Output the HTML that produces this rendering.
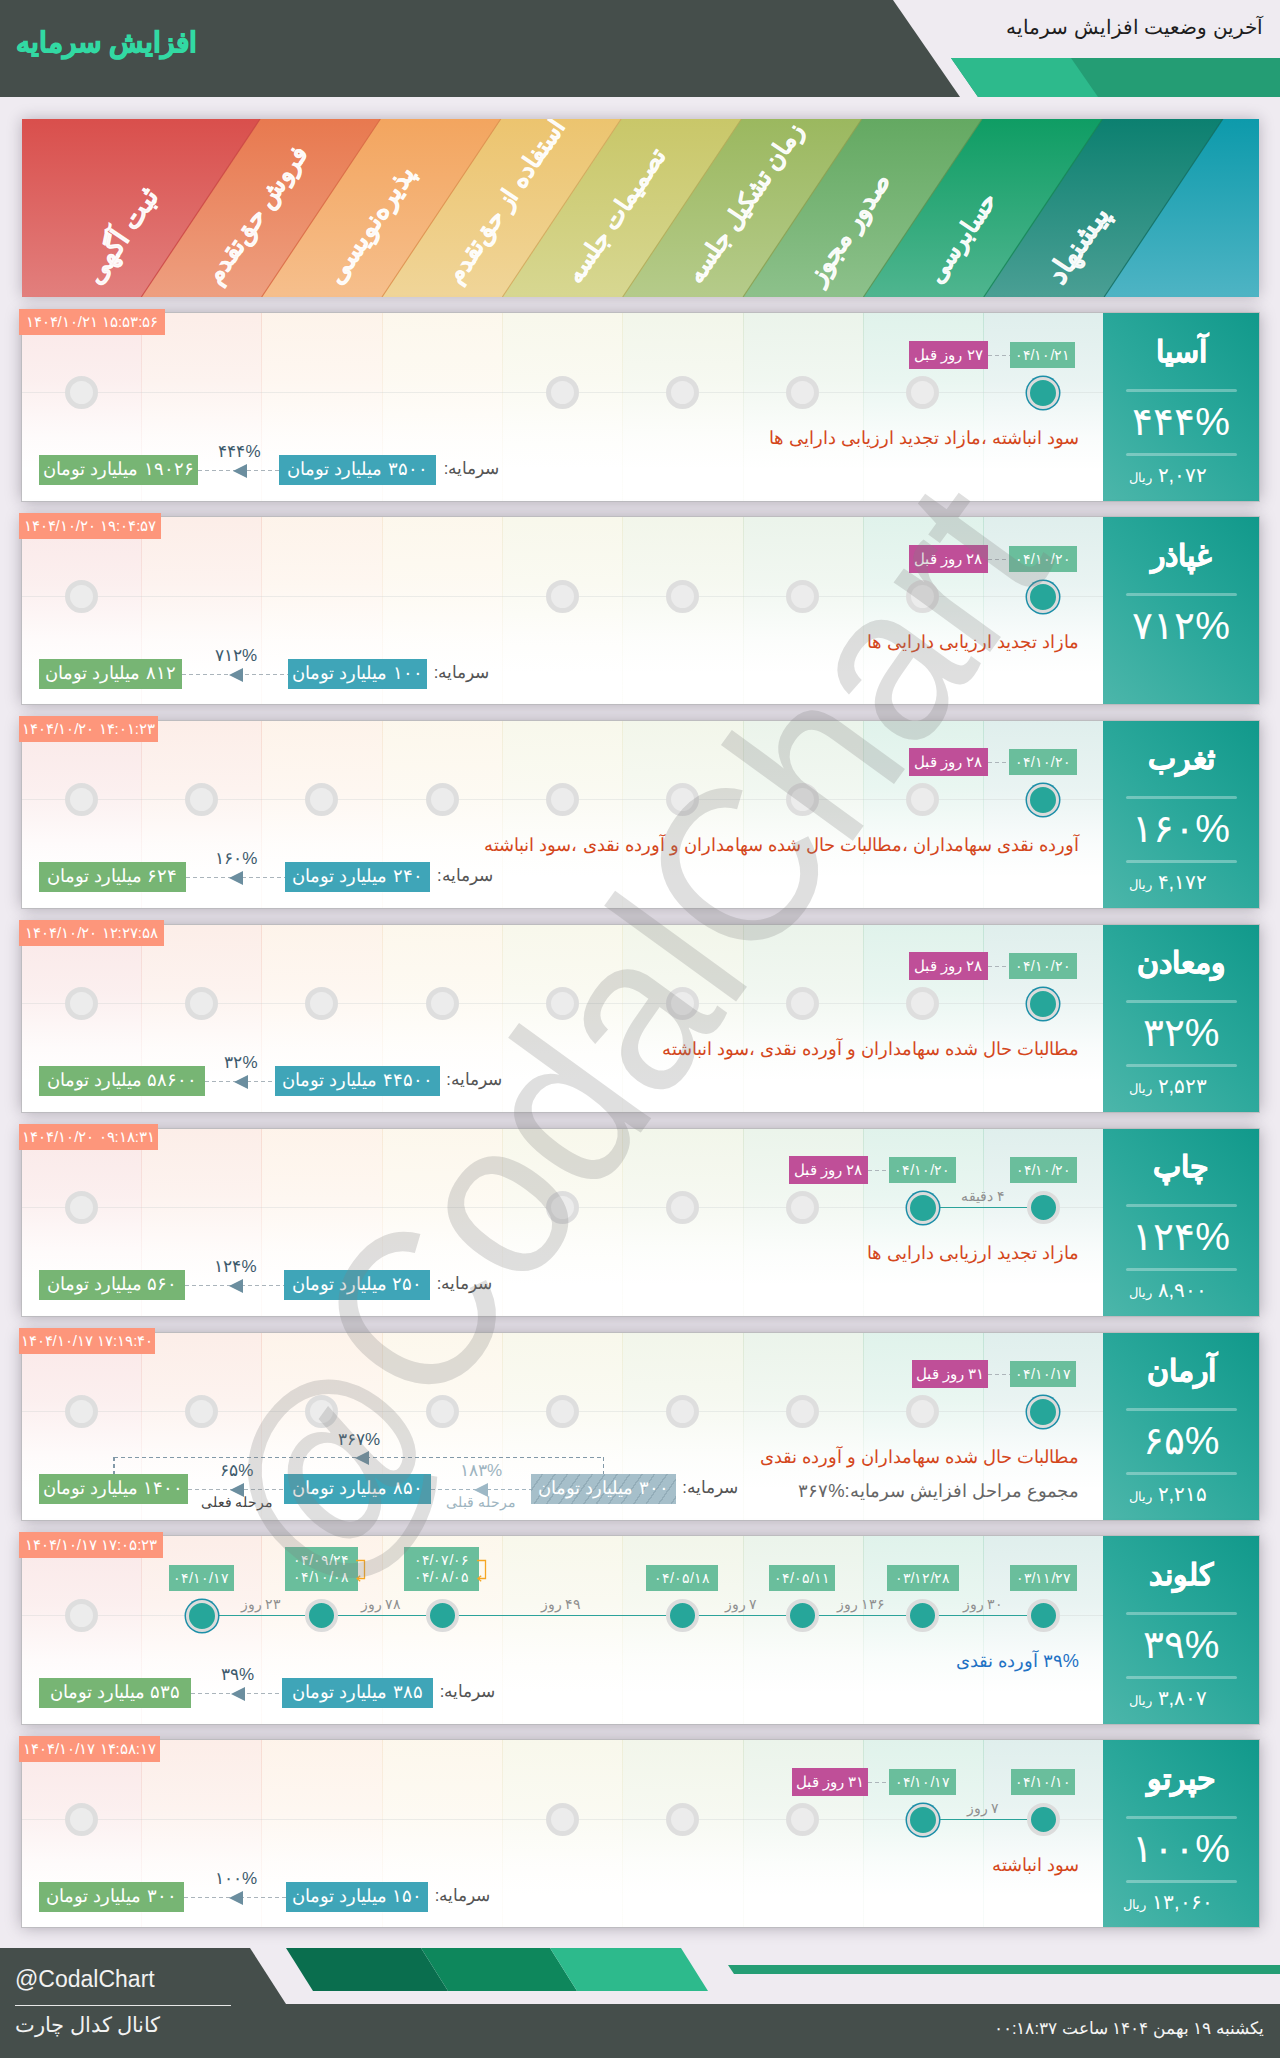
<!DOCTYPE html><html lang="fa"><head><meta charset="utf-8"><title>افزایش سرمایه</title><style>

*{box-sizing:border-box;margin:0;padding:0}
html,body{width:1280px;height:2058px;overflow:hidden}
body{position:relative;background:#efebf1;font-family:"Liberation Sans",sans-serif;color:#333}
.abs{position:absolute}
.hd-dark{position:absolute;left:0;top:0;width:962px;height:97px;background:#454e4b;clip-path:polygon(0 0,893px 0,960px 97px,0 97px)}
.hd-title{position:absolute;left:16px;top:21px;font-size:28px;font-weight:bold;color:#32d9a3;-webkit-text-stroke:1.1px #32d9a3;white-space:nowrap;line-height:44px;direction:rtl}
.hd-sub{position:absolute;right:17px;top:12px;font-size:20px;color:#1d1d1d;white-space:nowrap;line-height:30px;direction:rtl}
.hd-g1{position:absolute;left:940px;top:58px;width:340px;height:39px;background:#249d74;clip-path:polygon(11px 0,340px 0,340px 39px,38px 39px)}
.hd-g2{position:absolute;left:940px;top:58px;width:160px;height:39px;background:#2dba8c;clip-path:polygon(11px 0,131px 0,158px 39px,38px 39px)}
.stages{position:absolute;left:22px;top:119px;width:1237px;height:178px;overflow:hidden;box-shadow:0 0 14px rgba(40,30,50,.28);background:#d94f4c}
.stages svg{position:absolute;left:0;top:0}
.slab{position:absolute;white-space:nowrap;direction:rtl;font-weight:bold;font-size:24px;line-height:30px;color:rgba(255,255,255,.86);-webkit-text-stroke:.6px rgba(255,255,255,.8);transform-origin:0 100%;transform:rotate(-56.1deg);text-shadow:0 0 1px rgba(255,255,255,.35)}
.row{position:absolute;left:22px;width:1237px;height:188px;background:#fff;box-shadow:0 0 0 1px rgba(185,185,188,.8),0 0 15px rgba(40,30,50,.36)}
.row .bg{position:absolute;left:0;top:0;width:1081px;height:188px;background:linear-gradient(to right,#fbe9e6 0,#fdeee8 11%,#fef2e8 22%,#fef6ea 33%,#fbf8ea 44%,#f3f6e9 55%,#e9f3e9 66%,#e0f1ea 77%,#dcefec 88%,#dff0f1 100%)}
.row .fade{position:absolute;left:0;top:0;width:1081px;height:188px;background:linear-gradient(to bottom,rgba(255,255,255,0) 0,rgba(255,255,255,.55) 45%,rgba(255,255,255,.95) 80%,#fff 100%)}
.col{position:absolute;top:0;height:100%}
.vl{position:absolute;top:0;width:1px;height:100%}
.hl{position:absolute;left:0;top:79px;width:1081px;height:1px;background:rgba(200,205,205,.33)}
.ts{position:absolute;left:-3px;top:-4px;height:26px;background:#fd967b;color:#fff;font-size:15px;line-height:26px;text-align:center;white-space:nowrap;direction:ltr}
.c{position:absolute;width:33px;height:33px;border-radius:50%;border:5.5px solid #dedede;background:#ececec;top:63px}
.c.on{background:#26a69a;border:4px solid #dcdcdc}
.c.last{background:#26a69a;border:3.6px solid #dcdcdc;box-shadow:0 0 0 1.5px #1c8fa8;width:32px;height:32px;margin:.5px 0 0 .5px}
.ln{position:absolute;height:1.5px;background:#2ba39a;top:78.6px}
.dt{position:absolute;top:29px;height:26px;background:#6abe9c;color:#fff;font-size:14.3px;line-height:26px;text-align:center;white-space:nowrap;direction:rtl}
.dt2{position:absolute;top:11px;height:44px;background:#6abe9c;color:#fff;font-size:14.3px;line-height:17px;padding-top:5px;text-align:center;white-space:nowrap;direction:rtl}
.ago{position:absolute;top:28px;height:28px;background:#bf4f98;color:#fff;font-size:14.5px;line-height:28px;text-align:center;white-space:nowrap;direction:rtl}
.dash{position:absolute;height:1.5px;background:repeating-linear-gradient(to right,#aab4bb 0,#aab4bb 4px,transparent 4px,transparent 7px)}
.vdash{position:absolute;width:1.6px;background:repeating-linear-gradient(to bottom,#8299a8 0,#8299a8 4px,transparent 4px,transparent 7px)}
.gap{position:absolute;font-size:14.3px;line-height:16px;color:#8f8f8f;white-space:nowrap;direction:rtl;text-align:center}
.desc{position:absolute;right:180px;top:112px;font-size:18.2px;line-height:26px;color:#d4471c;white-space:nowrap;direction:rtl}
.desc.bl{color:#1f72c4}
.sum{position:absolute;right:180px;top:146px;font-size:18.4px;line-height:26px;color:#666;white-space:nowrap;direction:rtl}
.cap{position:absolute;top:142px;height:30px;color:#fff;font-size:18px;line-height:28px;text-align:center;white-space:nowrap;direction:rtl}
.cap.g{background:#77b574}
.cap.b{background:#3fa5b8}
.cap.h{background:repeating-linear-gradient(125deg,#a6bfca 0,#a6bfca 8.8px,#93adb9 8.8px,#93adb9 10.2px);color:#fff}
.capl{position:absolute;top:142px;height:29px;font-size:16.5px;line-height:26px;color:#555;white-space:nowrap;direction:rtl}
.pc{position:absolute;font-size:17px;line-height:18px;color:#3d5a6c;white-space:nowrap;text-align:center;direction:rtl}
.pc.lt{color:#9db4c0}
.st{position:absolute;font-size:13.8px;line-height:16px;color:#444;white-space:nowrap;text-align:center;direction:rtl}
.st.lt{color:#9db4c0}
.ar{position:absolute;width:0;height:0;border-top:7px solid transparent;border-bottom:7px solid transparent;border-right:14px solid #6b8e9f}
.ar.lt{border-right-color:#9db8c6}
.pnbg{position:absolute;left:1081px;top:0;width:156px;height:100%;background:linear-gradient(225deg,#11998b 0,#2ba89b 50%,#4cb6aa 100%)}
.in{position:absolute;left:0;width:1237px;height:188px}
.pn{position:absolute;left:1081px;top:0;width:156px;height:188px;color:#fff}
.pn .nm{position:absolute;left:0;width:156px;top:15px;text-align:center;font-size:30px;font-weight:bold;-webkit-text-stroke:.6px #fff;line-height:48px;white-space:nowrap;direction:rtl}
.pn .l1,.pn .l2{position:absolute;left:23px;width:111px;height:3px;border-radius:2px;background:rgba(255,255,255,.32)}
.pn .l1{top:75.5px}.pn .l2{top:140px}
.pn .pt{position:absolute;left:0;width:156px;top:84px;text-align:center;font-size:39px;line-height:50px;white-space:nowrap;direction:rtl}
.pn .pr{position:absolute;left:0;width:130px;top:148px;text-align:center;font-size:20px;line-height:28px;white-space:nowrap;direction:rtl}
.pn .pr small{font-size:13px}
.wm{position:absolute;left:624px;top:1023px;width:0;height:0}
.wm span{position:absolute;left:-800px;top:-150px;width:1600px;height:300px;line-height:300px;text-align:center;font-size:225px;color:rgba(128,128,128,.25);transform:rotate(-54deg) scaleX(.933);white-space:nowrap}
.ft-a{position:absolute;left:0;top:1948px;width:300px;height:56px;background:#454e4b;clip-path:polygon(0 0,250px 0,286px 56px,0 56px)}
.ft-b{position:absolute;left:0;top:2004px;width:1280px;height:54px;background:#454e4b}
.ft-g{position:absolute;top:1948px;height:43px}
.ft-line{position:absolute;left:700px;top:1965px;width:580px;height:9px;background:#249d74;clip-path:polygon(28px 0,580px 0,580px 9px,34px 9px)}
.ft-h{position:absolute;left:15px;top:1964px;font-size:23px;line-height:30px;color:#f2f2f2;white-space:nowrap}
.ft-u{position:absolute;left:15px;top:2005px;width:216px;height:1px;background:#e8e8e8}
.ft-k{position:absolute;left:15px;top:2010px;font-size:20.5px;line-height:30px;color:#f2f2f2;white-space:nowrap;direction:rtl}
.ft-d{position:absolute;right:16px;top:2013px;font-size:16.5px;line-height:30px;color:#f5f5f5;white-space:nowrap;direction:rtl}

.k0{left:0.0px;width:119.3px;background:linear-gradient(to bottom,rgba(217,79,76,.13) 0,rgba(217,79,76,.09) 36%,rgba(217,79,76,.025) 66%,rgba(217,79,76,0) 84%)}
.k1{left:119.3px;width:120.3px;background:linear-gradient(to bottom,rgba(232,121,79,.13) 0,rgba(232,121,79,.09) 36%,rgba(232,121,79,.025) 66%,rgba(232,121,79,0) 84%)}
.k2{left:239.6px;width:120.4px;background:linear-gradient(to bottom,rgba(243,165,95,.13) 0,rgba(243,165,95,.09) 36%,rgba(243,165,95,.025) 66%,rgba(243,165,95,0) 84%)}
.k3{left:360.0px;width:120.3px;background:linear-gradient(to bottom,rgba(236,196,111,.13) 0,rgba(236,196,111,.09) 36%,rgba(236,196,111,.025) 66%,rgba(236,196,111,0) 84%)}
.k4{left:480.3px;width:120.4px;background:linear-gradient(to bottom,rgba(201,199,105,.13) 0,rgba(201,199,105,.09) 36%,rgba(201,199,105,.025) 66%,rgba(201,199,105,0) 84%)}
.k5{left:600.7px;width:120.3px;background:linear-gradient(to bottom,rgba(155,184,95,.13) 0,rgba(155,184,95,.09) 36%,rgba(155,184,95,.025) 66%,rgba(155,184,95,0) 84%)}
.k6{left:721.0px;width:120.3px;background:linear-gradient(to bottom,rgba(100,169,98,.13) 0,rgba(100,169,98,.09) 36%,rgba(100,169,98,.025) 66%,rgba(100,169,98,0) 84%)}
.k7{left:841.4px;width:120.4px;background:linear-gradient(to bottom,rgba(15,157,100,.13) 0,rgba(15,157,100,.09) 36%,rgba(15,157,100,.025) 66%,rgba(15,157,100,0) 84%)}
.k8{left:961.8px;width:119.2px;background:linear-gradient(to bottom,rgba(12,128,112,.13) 0,rgba(12,128,112,.09) 36%,rgba(12,128,112,.025) 66%,rgba(12,128,112,0) 84%)}
.v1{left:118.8px;background:linear-gradient(to bottom,rgba(201,69,67,.14) 0,rgba(201,69,67,.09) 40%,rgba(201,69,67,.04) 75%,rgba(201,69,67,.03) 100%)}
.v2{left:239.1px;background:linear-gradient(to bottom,rgba(216,106,67,.14) 0,rgba(216,106,67,.09) 40%,rgba(216,106,67,.04) 75%,rgba(216,106,67,.03) 100%)}
.v3{left:359.5px;background:linear-gradient(to bottom,rgba(221,147,79,.14) 0,rgba(221,147,79,.09) 40%,rgba(221,147,79,.04) 75%,rgba(221,147,79,.03) 100%)}
.v4{left:479.8px;background:linear-gradient(to bottom,rgba(211,174,95,.14) 0,rgba(211,174,95,.09) 40%,rgba(211,174,95,.04) 75%,rgba(211,174,95,.03) 100%)}
.v5{left:600.2px;background:linear-gradient(to bottom,rgba(179,178,90,.14) 0,rgba(179,178,90,.09) 40%,rgba(179,178,90,.04) 75%,rgba(179,178,90,.03) 100%)}
.v6{left:720.5px;background:linear-gradient(to bottom,rgba(136,165,81,.14) 0,rgba(136,165,81,.09) 40%,rgba(136,165,81,.04) 75%,rgba(136,165,81,.03) 100%)}
.v7{left:840.9px;background:linear-gradient(to bottom,rgba(85,151,83,.14) 0,rgba(85,151,83,.09) 40%,rgba(85,151,83,.04) 75%,rgba(85,151,83,.03) 100%)}
.v8{left:961.2px;background:linear-gradient(to bottom,rgba(11,138,86,.14) 0,rgba(11,138,86,.09) 40%,rgba(11,138,86,.04) 75%,rgba(11,138,86,.03) 100%)}
</style></head><body>
<div class="hd-dark"></div><div class="hd-title">افزایش سرمایه</div><div class="hd-sub">آخرین وضعیت افزایش سرمایه</div><div class="hd-g1"></div><div class="hd-g2"></div>
<div class="stages"><svg width="1237" height="178" viewBox="0 0 1237 178"><defs><linearGradient id="sg0" x1="0" y1="0" x2="0" y2="1"><stop offset="0" stop-color="#d94f4c"/><stop offset="1" stop-color="#e27f7d"/></linearGradient><linearGradient id="sg1" x1="0" y1="0" x2="0" y2="1"><stop offset="0" stop-color="#e8794f"/><stop offset="1" stop-color="#ee9f80"/></linearGradient><linearGradient id="sg2" x1="0" y1="0" x2="0" y2="1"><stop offset="0" stop-color="#f3a55f"/><stop offset="1" stop-color="#f6bf8c"/></linearGradient><linearGradient id="sg3" x1="0" y1="0" x2="0" y2="1"><stop offset="0" stop-color="#ecc46f"/><stop offset="1" stop-color="#f0d598"/></linearGradient><linearGradient id="sg4" x1="0" y1="0" x2="0" y2="1"><stop offset="0" stop-color="#c9c769"/><stop offset="1" stop-color="#d7d791"/></linearGradient><linearGradient id="sg5" x1="0" y1="0" x2="0" y2="1"><stop offset="0" stop-color="#9bb85f"/><stop offset="1" stop-color="#b5cb8a"/></linearGradient><linearGradient id="sg6" x1="0" y1="0" x2="0" y2="1"><stop offset="0" stop-color="#64a962"/><stop offset="1" stop-color="#8dc18b"/></linearGradient><linearGradient id="sg7" x1="0" y1="0" x2="0" y2="1"><stop offset="0" stop-color="#0f9d64"/><stop offset="1" stop-color="#4fb58f"/></linearGradient><linearGradient id="sg8" x1="0" y1="0" x2="0" y2="1"><stop offset="0" stop-color="#0c8070"/><stop offset="1" stop-color="#4a9f94"/></linearGradient><linearGradient id="sg9" x1="0" y1="0" x2="0" y2="1"><stop offset="0" stop-color="#0d9aab"/><stop offset="1" stop-color="#4eb4c4"/></linearGradient></defs><polygon points="-400.00,178 119.30,178 238.05,0 -281.25,0" fill="url(#sg0)"/><polygon points="119.30,178 239.65,178 358.40,0 238.05,0" fill="url(#sg1)"/><polygon points="239.65,178 360.00,178 478.75,0 358.40,0" fill="url(#sg2)"/><polygon points="360.00,178 480.35,178 599.10,0 478.75,0" fill="url(#sg3)"/><polygon points="480.35,178 600.70,178 719.45,0 599.10,0" fill="url(#sg4)"/><polygon points="600.70,178 721.05,178 839.80,0 719.45,0" fill="url(#sg5)"/><polygon points="721.05,178 841.40,178 960.15,0 839.80,0" fill="url(#sg6)"/><polygon points="841.40,178 961.75,178 1080.50,0 960.15,0" fill="url(#sg7)"/><polygon points="961.75,178 1082.10,178 1200.85,0 1080.50,0" fill="url(#sg8)"/><polygon points="1082.10,178 2000.00,178 2118.75,0 1200.85,0" fill="url(#sg9)"/><line x1="119.30" y1="178" x2="238.05" y2="0" stroke="#c94543" stroke-width="1.2" stroke-opacity=".8"/><line x1="239.65" y1="178" x2="358.40" y2="0" stroke="#d86a43" stroke-width="1.2" stroke-opacity=".8"/><line x1="360.00" y1="178" x2="478.75" y2="0" stroke="#dd934f" stroke-width="1.2" stroke-opacity=".8"/><line x1="480.35" y1="178" x2="599.10" y2="0" stroke="#d3ae5f" stroke-width="1.2" stroke-opacity=".8"/><line x1="600.70" y1="178" x2="719.45" y2="0" stroke="#b3b25a" stroke-width="1.2" stroke-opacity=".8"/><line x1="721.05" y1="178" x2="839.80" y2="0" stroke="#88a551" stroke-width="1.2" stroke-opacity=".8"/><line x1="841.40" y1="178" x2="960.15" y2="0" stroke="#559753" stroke-width="1.2" stroke-opacity=".8"/><line x1="961.75" y1="178" x2="1080.50" y2="0" stroke="#0b8a56" stroke-width="1.2" stroke-opacity=".8"/><line x1="1082.10" y1="178" x2="1200.85" y2="0" stroke="#086f60" stroke-width="1.2" stroke-opacity=".8"/></svg><div class="slab" style="left:82.0px;top:140px;font-size:27.5px">ثبت آگهی</div><div class="slab" style="left:202.3px;top:140px;font-size:24.9px">فروش حق‌تقدم</div><div class="slab" style="left:322.6px;top:140px;font-size:26.5px">پذیره‌نویسی</div><div class="slab" style="left:442.9px;top:140px;font-size:24.1px">استفاده از حق‌تقدم</div><div class="slab" style="left:563.2px;top:140px;font-size:24.1px">تصمیمات جلسه</div><div class="slab" style="left:683.5px;top:140px;font-size:24.3px">زمان تشکیل جلسه</div><div class="slab" style="left:803.8px;top:140px;font-size:26.0px">صدور مجوز</div><div class="slab" style="left:924.1px;top:140px;font-size:24.2px">حسابرسی</div><div class="slab" style="left:1044.4px;top:140px;font-size:28.5px">پیشنهاد</div></div>
<div class="row" style="top:313px;height:188px"><div class="col k0"></div><div class="col k1"></div><div class="col k2"></div><div class="col k3"></div><div class="col k4"></div><div class="col k5"></div><div class="col k6"></div><div class="col k7"></div><div class="col k8"></div><div class="vl v1"></div><div class="vl v2"></div><div class="vl v3"></div><div class="vl v4"></div><div class="vl v5"></div><div class="vl v6"></div><div class="vl v7"></div><div class="vl v8"></div><div class="pnbg"></div><div class="in" style="top:0px"><div class="hl"></div><div class="c " style="left:43.0px"></div><div class="c " style="left:523.8px"></div><div class="c " style="left:644.0px"></div><div class="c " style="left:764.2px"></div><div class="c " style="left:884.4px"></div><div class="c last" style="left:1004.6px"></div><div class="dt" style="left:988.0px;width:65.0px;">۰۴/۱۰/۲۱</div><div class="ago" style="left:887.0px;width:79.0px;">۲۷ روز قبل</div><div class="dash" style="left:966.0px;width:22.0px;top:41.8px;background:repeating-linear-gradient(to right,#adb5ba 0,#adb5ba 4px,transparent 4px,transparent 7px)"></div><div class="desc">سود انباشته ،مازاد تجدید ارزیابی دارایی ها</div><div class="cap g" style="left:17.0px;width:159.0px;">۱۹۰۲۶ میلیارد تومان</div><div class="cap b" style="left:257.0px;width:157.0px;">۳۵۰۰ میلیارد تومان</div><div class="capl" style="left:413.0px;width:73.0px;text-align:center">سرمایه:</div><div class="dash" style="left:176.0px;width:81.0px;top:156.8px"></div><div class="ar" style="left:210.5px;top:150.5px"></div><div class="pc" style="left:157.5px;width:120px;top:129.5px;">۴۴۴%</div><div class="pn"><div class="nm">آسیا</div><div class="l1"></div><div class="pt">۴۴۴%</div><div class="l2"></div><div class="pr">۲,۰۷۲ <small>ریال</small></div></div><div class="ts" style="width:146px">۱۴۰۴/۱۰/۲۱ ۱۵:۵۳:۵۶</div></div></div>
<div class="row" style="top:517px;height:187px"><div class="col k0"></div><div class="col k1"></div><div class="col k2"></div><div class="col k3"></div><div class="col k4"></div><div class="col k5"></div><div class="col k6"></div><div class="col k7"></div><div class="col k8"></div><div class="vl v1"></div><div class="vl v2"></div><div class="vl v3"></div><div class="vl v4"></div><div class="vl v5"></div><div class="vl v6"></div><div class="vl v7"></div><div class="vl v8"></div><div class="pnbg"></div><div class="in" style="top:0px"><div class="hl"></div><div class="c " style="left:43.0px"></div><div class="c " style="left:523.8px"></div><div class="c " style="left:644.0px"></div><div class="c " style="left:764.2px"></div><div class="c " style="left:884.4px"></div><div class="c last" style="left:1004.6px"></div><div class="dt" style="left:986.5px;width:68.5px;">۰۴/۱۰/۲۰</div><div class="ago" style="left:886.5px;width:79.5px;">۲۸ روز قبل</div><div class="dash" style="left:966.0px;width:20.5px;top:41.8px;background:repeating-linear-gradient(to right,#adb5ba 0,#adb5ba 4px,transparent 4px,transparent 7px)"></div><div class="desc">مازاد تجدید ارزیابی دارایی ها</div><div class="cap g" style="left:17.0px;width:143.0px;">۸۱۲ میلیارد تومان</div><div class="cap b" style="left:266.0px;width:139.0px;">۱۰۰ میلیارد تومان</div><div class="capl" style="left:402.0px;width:75.0px;text-align:center">سرمایه:</div><div class="dash" style="left:160.0px;width:106.0px;top:156.8px"></div><div class="ar" style="left:207.0px;top:150.5px"></div><div class="pc" style="left:154.0px;width:120px;top:129.5px;">۷۱۲%</div><div class="pn"><div class="nm">غپاذر</div><div class="l1"></div><div class="pt">۷۱۲%</div></div><div class="ts" style="width:142px">۱۴۰۴/۱۰/۲۰ ۱۹:۰۴:۵۷</div></div></div>
<div class="row" style="top:721px;height:187px"><div class="col k0"></div><div class="col k1"></div><div class="col k2"></div><div class="col k3"></div><div class="col k4"></div><div class="col k5"></div><div class="col k6"></div><div class="col k7"></div><div class="col k8"></div><div class="vl v1"></div><div class="vl v2"></div><div class="vl v3"></div><div class="vl v4"></div><div class="vl v5"></div><div class="vl v6"></div><div class="vl v7"></div><div class="vl v8"></div><div class="pnbg"></div><div class="in" style="top:-1px"><div class="hl"></div><div class="c " style="left:43.0px"></div><div class="c " style="left:163.2px"></div><div class="c " style="left:283.4px"></div><div class="c " style="left:403.6px"></div><div class="c " style="left:523.8px"></div><div class="c " style="left:644.0px"></div><div class="c " style="left:764.2px"></div><div class="c " style="left:884.4px"></div><div class="c last" style="left:1004.6px"></div><div class="dt" style="left:986.5px;width:68.5px;">۰۴/۱۰/۲۰</div><div class="ago" style="left:886.5px;width:79.5px;">۲۸ روز قبل</div><div class="dash" style="left:966.0px;width:20.5px;top:41.8px;background:repeating-linear-gradient(to right,#adb5ba 0,#adb5ba 4px,transparent 4px,transparent 7px)"></div><div class="desc">آورده نقدی سهامداران ،مطالبات حال شده سهامداران و آورده نقدی ،سود انباشته</div><div class="cap g" style="left:17.0px;width:146.5px;">۶۲۴ میلیارد تومان</div><div class="cap b" style="left:263.0px;width:145.0px;">۲۴۰ میلیارد تومان</div><div class="capl" style="left:405.0px;width:75.5px;text-align:center">سرمایه:</div><div class="dash" style="left:163.5px;width:99.5px;top:156.8px"></div><div class="ar" style="left:207.2px;top:150.5px"></div><div class="pc" style="left:154.2px;width:120px;top:129.5px;">۱۶۰%</div><div class="pn"><div class="nm">ثغرب</div><div class="l1"></div><div class="pt">۱۶۰%</div><div class="l2"></div><div class="pr">۴,۱۷۲ <small>ریال</small></div></div><div class="ts" style="width:139px">۱۴۰۴/۱۰/۲۰ ۱۴:۰۱:۲۳</div></div></div>
<div class="row" style="top:925px;height:187px"><div class="col k0"></div><div class="col k1"></div><div class="col k2"></div><div class="col k3"></div><div class="col k4"></div><div class="col k5"></div><div class="col k6"></div><div class="col k7"></div><div class="col k8"></div><div class="vl v1"></div><div class="vl v2"></div><div class="vl v3"></div><div class="vl v4"></div><div class="vl v5"></div><div class="vl v6"></div><div class="vl v7"></div><div class="vl v8"></div><div class="pnbg"></div><div class="in" style="top:-1px"><div class="hl"></div><div class="c " style="left:43.0px"></div><div class="c " style="left:163.2px"></div><div class="c " style="left:283.4px"></div><div class="c " style="left:403.6px"></div><div class="c " style="left:523.8px"></div><div class="c " style="left:644.0px"></div><div class="c " style="left:764.2px"></div><div class="c " style="left:884.4px"></div><div class="c last" style="left:1004.6px"></div><div class="dt" style="left:986.5px;width:68.5px;">۰۴/۱۰/۲۰</div><div class="ago" style="left:886.5px;width:79.5px;">۲۸ روز قبل</div><div class="dash" style="left:966.0px;width:20.5px;top:41.8px;background:repeating-linear-gradient(to right,#adb5ba 0,#adb5ba 4px,transparent 4px,transparent 7px)"></div><div class="desc">مطالبات حال شده سهامداران و آورده نقدی ،سود انباشته</div><div class="cap g" style="left:17.0px;width:166.0px;">۵۸۶۰۰ میلیارد تومان</div><div class="cap b" style="left:253.0px;width:165.0px;">۴۴۵۰۰ میلیارد تومان</div><div class="capl" style="left:414.5px;width:75.0px;text-align:center">سرمایه:</div><div class="dash" style="left:183.0px;width:70.0px;top:156.8px"></div><div class="ar" style="left:212.0px;top:150.5px"></div><div class="pc" style="left:159.0px;width:120px;top:129.5px;">۳۲%</div><div class="pn"><div class="nm">ومعادن</div><div class="l1"></div><div class="pt">۳۲%</div><div class="l2"></div><div class="pr">۲,۵۲۳ <small>ریال</small></div></div><div class="ts" style="width:145px">۱۴۰۴/۱۰/۲۰ ۱۲:۲۷:۵۸</div></div></div>
<div class="row" style="top:1129px;height:187px"><div class="col k0"></div><div class="col k1"></div><div class="col k2"></div><div class="col k3"></div><div class="col k4"></div><div class="col k5"></div><div class="col k6"></div><div class="col k7"></div><div class="col k8"></div><div class="vl v1"></div><div class="vl v2"></div><div class="vl v3"></div><div class="vl v4"></div><div class="vl v5"></div><div class="vl v6"></div><div class="vl v7"></div><div class="vl v8"></div><div class="pnbg"></div><div class="in" style="top:-1px"><div class="hl"></div><div class="ln" style="left:916.9px;width:92.2px"></div><div class="c " style="left:43.0px"></div><div class="c " style="left:523.8px"></div><div class="c " style="left:644.0px"></div><div class="c " style="left:764.2px"></div><div class="c on" style="left:1004.6px"></div><div class="c last" style="left:884.4px"></div><div class="dt" style="left:988.0px;width:67.0px;">۰۴/۱۰/۲۰</div><div class="dt" style="left:866.5px;width:67.5px;">۰۴/۱۰/۲۰</div><div class="ago" style="left:766.5px;width:79.5px;">۲۸ روز قبل</div><div class="dash" style="left:846.0px;width:20.5px;top:41.8px;background:repeating-linear-gradient(to right,#adb5ba 0,#adb5ba 4px,transparent 4px,transparent 7px)"></div><div class="gap" style="left:901.0px;width:120px;top:60.0px;">۴ دقیقه</div><div class="desc">مازاد تجدید ارزیابی دارایی ها</div><div class="cap g" style="left:17.0px;width:146.0px;">۵۶۰ میلیارد تومان</div><div class="cap b" style="left:262.0px;width:146.0px;">۲۵۰ میلیارد تومان</div><div class="capl" style="left:405.0px;width:75.0px;text-align:center">سرمایه:</div><div class="dash" style="left:163.0px;width:99.0px;top:156.8px"></div><div class="ar" style="left:206.5px;top:150.5px"></div><div class="pc" style="left:153.5px;width:120px;top:129.5px;">۱۲۴%</div><div class="pn"><div class="nm">چاپ</div><div class="l1"></div><div class="pt">۱۲۴%</div><div class="l2"></div><div class="pr">۸,۹۰۰ <small>ریال</small></div></div><div class="ts" style="width:139px">۱۴۰۴/۱۰/۲۰ ۰۹:۱۸:۳۱</div></div></div>
<div class="row" style="top:1333px;height:187px"><div class="col k0"></div><div class="col k1"></div><div class="col k2"></div><div class="col k3"></div><div class="col k4"></div><div class="col k5"></div><div class="col k6"></div><div class="col k7"></div><div class="col k8"></div><div class="vl v1"></div><div class="vl v2"></div><div class="vl v3"></div><div class="vl v4"></div><div class="vl v5"></div><div class="vl v6"></div><div class="vl v7"></div><div class="vl v8"></div><div class="pnbg"></div><div class="in" style="top:-1px"><div class="hl"></div><div class="c " style="left:43.0px"></div><div class="c " style="left:163.2px"></div><div class="c " style="left:283.4px"></div><div class="c " style="left:403.6px"></div><div class="c " style="left:523.8px"></div><div class="c " style="left:644.0px"></div><div class="c " style="left:764.2px"></div><div class="c " style="left:884.4px"></div><div class="c last" style="left:1004.6px"></div><div class="dt" style="left:988.0px;width:66.0px;">۰۴/۱۰/۱۷</div><div class="ago" style="left:889.5px;width:76.5px;">۳۱ روز قبل</div><div class="dash" style="left:966.0px;width:22.0px;top:41.8px;background:repeating-linear-gradient(to right,#adb5ba 0,#adb5ba 4px,transparent 4px,transparent 7px)"></div><div class="desc">مطالبات حال شده سهامداران و آورده نقدی</div><div class="sum">مجموع مراحل افزایش سرمایه:%۳۶۷</div><div class="cap g" style="left:17.0px;width:148.5px;">۱۴۰۰ میلیارد تومان</div><div class="cap b" style="left:262.0px;width:147.0px;">۸۵۰ میلیارد تومان</div><div class="capl" style="left:650.5px;width:75.0px;text-align:center">سرمایه:</div><div class="dash" style="left:165.5px;width:96.5px;top:156.8px"></div><div class="ar" style="left:207.8px;top:150.5px"></div><div class="pc" style="left:154.8px;width:120px;top:129.5px;">۶۵%</div><div class="cap h" style="left:509.0px;width:145.0px;">۳۰۰ میلیارد تومان</div><div class="dash" style="left:409.0px;width:100.0px;top:156.8px;background:repeating-linear-gradient(to right,#a3b5c0 0,#a3b5c0 4px,transparent 4px,transparent 7px)"></div><div class="ar lt" style="left:452.0px;top:150.5px"></div><div class="pc lt" style="left:399.0px;width:120px;top:129.5px;">۱۸۳%</div><div class="st lt" style="left:399.0px;width:120px;top:163.0px;">مرحله قبلی</div><div class="st" style="left:155.0px;width:120px;top:163.0px;">مرحله فعلی</div><div class="dash" style="left:92.0px;width:489.5px;top:124.8px;background:repeating-linear-gradient(to right,#8299a8 0,#8299a8 4px,transparent 4px,transparent 7px)"></div><div class="vdash" style="left:91.3px;top:125px;height:17px"></div><div class="vdash" style="left:580.8px;top:125px;height:17px"></div><div class="ar" style="left:333.0px;top:118.5px"></div><div class="pc" style="left:277.0px;width:120px;top:99.0px;">۳۶۷%</div><div class="pn"><div class="nm">آرمان</div><div class="l1"></div><div class="pt">۶۵%</div><div class="l2"></div><div class="pr">۲,۲۱۵ <small>ریال</small></div></div><div class="ts" style="width:136px">۱۴۰۴/۱۰/۱۷ ۱۷:۱۹:۴۰</div></div></div>
<div class="row" style="top:1536px;height:188px"><div class="col k0"></div><div class="col k1"></div><div class="col k2"></div><div class="col k3"></div><div class="col k4"></div><div class="col k5"></div><div class="col k6"></div><div class="col k7"></div><div class="col k8"></div><div class="vl v1"></div><div class="vl v2"></div><div class="vl v3"></div><div class="vl v4"></div><div class="vl v5"></div><div class="vl v6"></div><div class="vl v7"></div><div class="vl v8"></div><div class="pnbg"></div><div class="in" style="top:0px"><div class="hl"></div><div class="ln" style="left:195.7px;width:815.4px"></div><div class="c " style="left:43.0px"></div><div class="c on" style="left:283.4px"></div><div class="c on" style="left:403.6px"></div><div class="c on" style="left:644.0px"></div><div class="c on" style="left:764.2px"></div><div class="c on" style="left:884.4px"></div><div class="c on" style="left:1004.6px"></div><div class="c last" style="left:163.2px"></div><div class="dt" style="left:988.0px;width:67.0px;">۰۳/۱۱/۲۷</div><div class="dt" style="left:864.5px;width:72.0px;">۰۳/۱۲/۲۸</div><div class="dt" style="left:747.0px;width:66.0px;">۰۴/۰۵/۱۱</div><div class="dt" style="left:624.0px;width:72.0px;">۰۴/۰۵/۱۸</div><div class="dt" style="left:146.5px;width:65.0px;">۰۴/۱۰/۱۷</div><div class="dt2" style="left:382.0px;width:75.0px;">۰۴/۰۷/۰۶<br>۰۴/۰۸/۰۵</div><div class="dt2" style="left:263.0px;width:72.5px;">۰۴/۰۹/۲۴<br>۰۴/۱۰/۰۸</div><div class="gap" style="left:901.0px;width:120px;top:60.0px;">۳۰ روز</div><div class="gap" style="left:779.0px;width:120px;top:60.0px;">۱۳۶ روز</div><div class="gap" style="left:659.0px;width:120px;top:60.0px;">۷ روز</div><div class="gap" style="left:479.0px;width:120px;top:60.0px;">۴۹ روز</div><div class="gap" style="left:299.0px;width:120px;top:60.0px;">۷۸ روز</div><div class="gap" style="left:179.0px;width:120px;top:60.0px;">۲۳ روز</div><svg class="abs" style="left:454.5px;top:21px" width="11" height="28" viewBox="0 0 11 28"><path d="M0 3.5 H8.5 V21.5 H1.5" fill="none" stroke="#f5a623" stroke-width="1.3"/><path d="M4.2 18.8 L1 21.5 L4.2 24.2" fill="none" stroke="#f5a623" stroke-width="1.3"/></svg><svg class="abs" style="left:334.0px;top:21px" width="11" height="28" viewBox="0 0 11 28"><path d="M0 3.5 H8.5 V21.5 H1.5" fill="none" stroke="#f5a623" stroke-width="1.3"/><path d="M4.2 18.8 L1 21.5 L4.2 24.2" fill="none" stroke="#f5a623" stroke-width="1.3"/></svg><div class="desc bl">۳۹% آورده نقدی</div><div class="cap g" style="left:17.0px;width:152.0px;">۵۳۵ میلیارد تومان</div><div class="cap b" style="left:260.0px;width:151.0px;">۳۸۵ میلیارد تومان</div><div class="capl" style="left:408.0px;width:75.0px;text-align:center">سرمایه:</div><div class="dash" style="left:169.0px;width:91.0px;top:156.8px"></div><div class="ar" style="left:208.5px;top:150.5px"></div><div class="pc" style="left:155.5px;width:120px;top:129.5px;">۳۹%</div><div class="pn"><div class="nm">کلوند</div><div class="l1"></div><div class="pt">۳۹%</div><div class="l2"></div><div class="pr">۳,۸۰۷ <small>ریال</small></div></div><div class="ts" style="width:144px">۱۴۰۴/۱۰/۱۷ ۱۷:۰۵:۲۳</div></div></div>
<div class="row" style="top:1740px;height:187px"><div class="col k0"></div><div class="col k1"></div><div class="col k2"></div><div class="col k3"></div><div class="col k4"></div><div class="col k5"></div><div class="col k6"></div><div class="col k7"></div><div class="col k8"></div><div class="vl v1"></div><div class="vl v2"></div><div class="vl v3"></div><div class="vl v4"></div><div class="vl v5"></div><div class="vl v6"></div><div class="vl v7"></div><div class="vl v8"></div><div class="pnbg"></div><div class="in" style="top:0px"><div class="hl"></div><div class="ln" style="left:916.9px;width:92.2px"></div><div class="c " style="left:43.0px"></div><div class="c " style="left:523.8px"></div><div class="c " style="left:644.0px"></div><div class="c " style="left:764.2px"></div><div class="c on" style="left:1004.6px"></div><div class="c last" style="left:884.4px"></div><div class="dt" style="left:989.0px;width:64.0px;">۰۴/۱۰/۱۰</div><div class="dt" style="left:867.0px;width:67.0px;">۰۴/۱۰/۱۷</div><div class="ago" style="left:770.0px;width:76.0px;">۳۱ روز قبل</div><div class="dash" style="left:846.0px;width:21.0px;top:41.8px;background:repeating-linear-gradient(to right,#adb5ba 0,#adb5ba 4px,transparent 4px,transparent 7px)"></div><div class="gap" style="left:901.0px;width:120px;top:60.0px;">۷ روز</div><div class="desc">سود انباشته</div><div class="cap g" style="left:17.0px;width:145.0px;">۳۰۰ میلیارد تومان</div><div class="cap b" style="left:264.0px;width:142.0px;">۱۵۰ میلیارد تومان</div><div class="capl" style="left:403.0px;width:75.0px;text-align:center">سرمایه:</div><div class="dash" style="left:162.0px;width:102.0px;top:156.8px"></div><div class="ar" style="left:207.0px;top:150.5px"></div><div class="pc" style="left:154.0px;width:120px;top:129.5px;">۱۰۰%</div><div class="pn"><div class="nm">حپرتو</div><div class="l1"></div><div class="pt">۱۰۰%</div><div class="l2"></div><div class="pr">۱۳,۰۶۰ <small>ریال</small></div></div><div class="ts" style="width:141px">۱۴۰۴/۱۰/۱۷ ۱۴:۵۸:۱۷</div></div></div>
<div class="wm"><span><i style="font-style:normal;position:relative;left:4px;top:26px;margin-left:-18px">@</i>CodalChart</span></div>
<div class="ft-a"></div><div class="ft-b"></div><div class="ft-g" style="left:286px;width:163px;background:#0a6e4e;clip-path:polygon(0 0,135px 0,162px 43px,27px 43px)"></div><div class="ft-g" style="left:421px;width:157px;background:#0e875c;clip-path:polygon(0 0,129px 0,156px 43px,27px 43px)"></div><div class="ft-g" style="left:550px;width:159px;background:#2dba8c;clip-path:polygon(0 0,131px 0,158px 43px,27px 43px)"></div><div class="ft-line"></div><div class="ft-h">@CodalChart</div><div class="ft-u"></div><div class="ft-k">کانال کدال چارت</div><div class="ft-d">یکشنبه ۱۹ بهمن ۱۴۰۴ ساعت ۰۰:۱۸:۳۷</div>
</body></html>
